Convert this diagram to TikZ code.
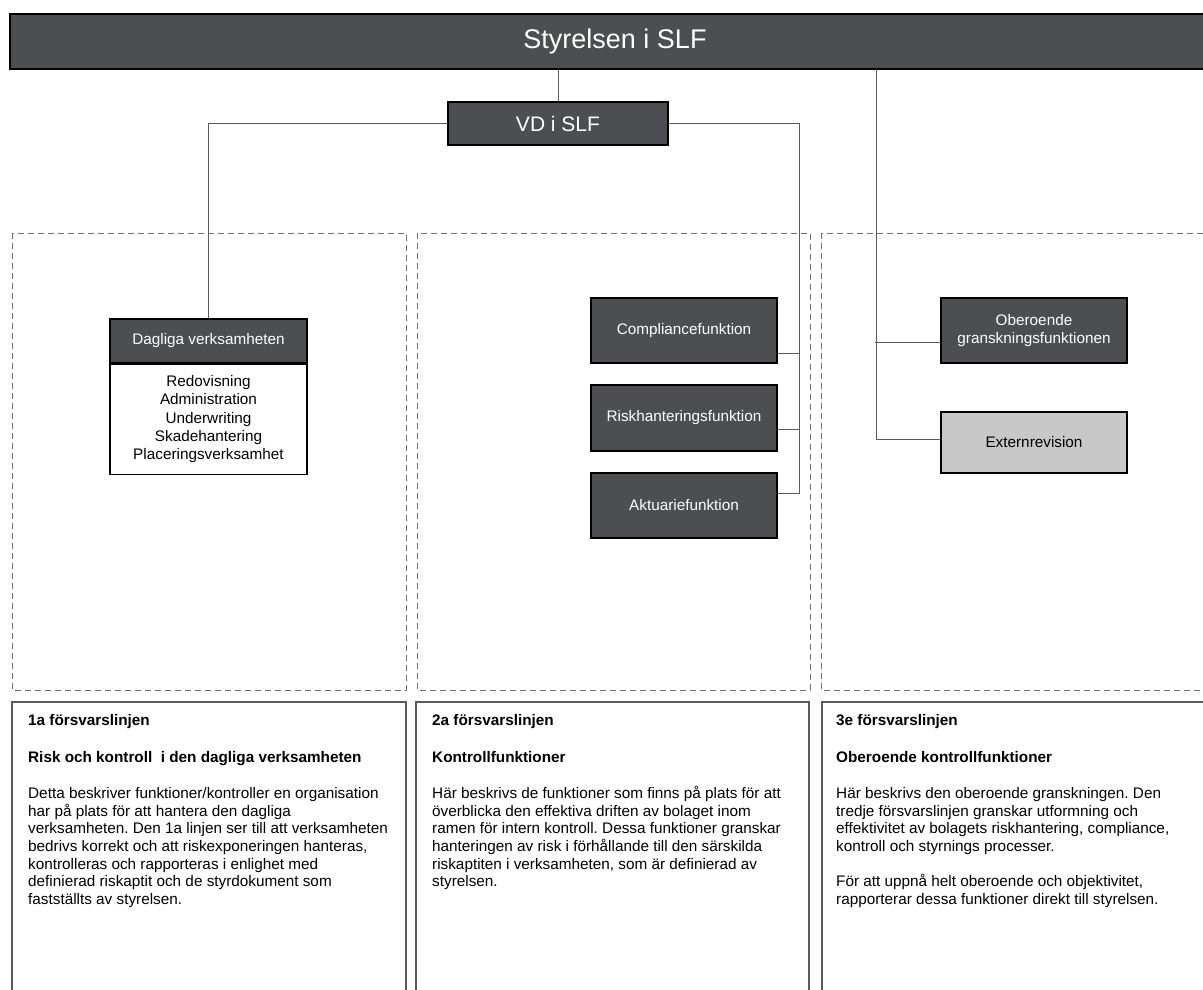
\documentclass[tikz,border=0pt]{standalone}
\usepackage{fontspec}
\setmainfont{Liberation Sans}
\frenchspacing
\definecolor{boxgray}{HTML}{4D4E52}
\definecolor{extgray}{HTML}{C8C8C8}
\definecolor{linegray}{HTML}{5A5A5A}
\definecolor{dashgray}{HTML}{707070}

\tikzset{
  darkbox/.style={draw=black, line width=1.2pt, fill=boxgray, text=white,
    font=\fontsize{15.3}{18.3}\selectfont, align=center, inner sep=0pt},
  lightbox/.style={darkbox, fill=extgray, text=black},
  listbox/.style={draw=black, line width=1.2pt, fill=white,
    font=\fontsize{15.3}{18.25}\selectfont, align=center, inner sep=0pt},
  conn/.style={draw=linegray, line width=0.9pt},
  zone/.style={draw=dashgray, line width=0.9pt, dash pattern=on 6pt off 4pt},
  panel/.style={draw=linegray, line width=1.1pt},
  desc/.style={anchor=north west, inner sep=0pt, align=left,
    font=\fontsize{15.3}{17.6}\selectfont}
}

\begin{document}
\begin{tikzpicture}[x=1pt, y=-1pt]
\useasboundingbox (0,0) rectangle (1203,989);

% Draw the dashed zones of the three lines
\draw[zone] (12,233) rectangle (406,690);
\draw[zone] (417,233) rectangle (810,690);
\draw[zone] (821,233) rectangle (1230,690);

% Draw the description panels
\draw[panel] (12,702) rectangle (406,1010);
\draw[panel] (416,702) rectangle (809,1010);
\draw[panel] (822,702) rectangle (1230,1010);

% Board and VD
\node[darkbox, minimum width=1210pt, minimum height=55pt,
  font=\fontsize{27}{30}\selectfont] (board) at (615,41.5) {Styrelsen i SLF};
\node[darkbox, minimum width=220pt, minimum height=43pt,
  font=\fontsize{21}{24}\selectfont] (vd) at (558,123.5) {VD i SLF};

% First line: daily operations
\node[darkbox, minimum width=197pt, minimum height=44pt] (daily) at (208.5,341) {Dagliga verksamheten};
\node[listbox, minimum width=197pt, minimum height=110pt, anchor=north] (dailylist) at (daily.south)
  {Redovisning\\Administration\\Underwriting\\Skadehantering\\Placeringsverksamhet};

% Second line: control functions
\node[darkbox, minimum width=186pt, minimum height=65pt] (comp) at (684,330.5) {Compliancefunktion};
\node[darkbox, minimum width=186pt, minimum height=66pt] (risk) at (684,418) {Riskhanteringsfunktion};
\node[darkbox, minimum width=186pt, minimum height=65pt] (act) at (684,505.5) {Aktuariefunktion};

% Third line: independent review
\node[darkbox, minimum width=186pt, minimum height=65pt] (indep) at (1034,330.5) {Oberoende\\granskningsfunktionen};
\node[lightbox, minimum width=186pt, minimum height=61pt] (audit) at (1034,442.5) {Externrevision};

% Connectors
\draw[conn] (board.south -| vd.north) -- (vd.north);
\draw[conn] (vd.west) -| (daily.north);
\coordinate (bus) at (799,493);
\draw[conn] (vd.east) -| (bus) -- ([yshift=12.5pt]act.east);
\draw[conn] ([yshift=-22.5pt]comp.east) -- ++(22,0);
\draw[conn] ([yshift=-11pt]risk.east) -- ++(22,0);
\coordinate (tap) at (876,69);
\draw[conn] (tap) |- ([yshift=3.5pt]audit.west);
\draw[conn] ([yshift=-11.5pt]indep.west) -- ++(-65,0);

% Description texts
\node[desc] (desc1) at (28,714) {\textbf{1a försvarslinjen}\\[19.4pt]
  \textbf{Risk och kontroll\ \ i den dagliga verksamheten}\\[18.9pt]
  Detta beskriver funktioner/kontroller en organisation\\
  har på plats för att hantera den dagliga\\
  verksamheten. Den 1a linjen ser till att verksamheten\\
  bedrivs korrekt och att riskexponeringen hanteras,\\
  kontrolleras och rapporteras i enlighet med\\
  definierad riskaptit och de styrdokument som\\
  fastställts av styrelsen.};
\node[desc] (desc2) at (432,714) {\textbf{2a försvarslinjen}\\[19.4pt]
  \textbf{Kontrollfunktioner}\\[18.9pt]
  Här beskrivs de funktioner som finns på plats för att\\
  överblicka den effektiva driften av bolaget inom\\
  ramen för intern kontroll. Dessa funktioner granskar\\
  hanteringen av risk i förhållande till den särskilda\\
  riskaptiten i verksamheten, som är definierad av\\
  styrelsen.};
\node[desc] (desc3) at (836,714) {\textbf{3e försvarslinjen}\\[19.4pt]
  \textbf{Oberoende kontrollfunktioner}\\[18.9pt]
  Här beskrivs den oberoende granskningen. Den\\
  tredje försvarslinjen granskar utformning och\\
  effektivitet av bolagets riskhantering, compliance,\\
  kontroll och styrnings processer.\\[17.6pt]
  För att uppnå helt oberoende och objektivitet,\\
  rapporterar dessa funktioner direkt till styrelsen.};
\end{tikzpicture}
\end{document}
